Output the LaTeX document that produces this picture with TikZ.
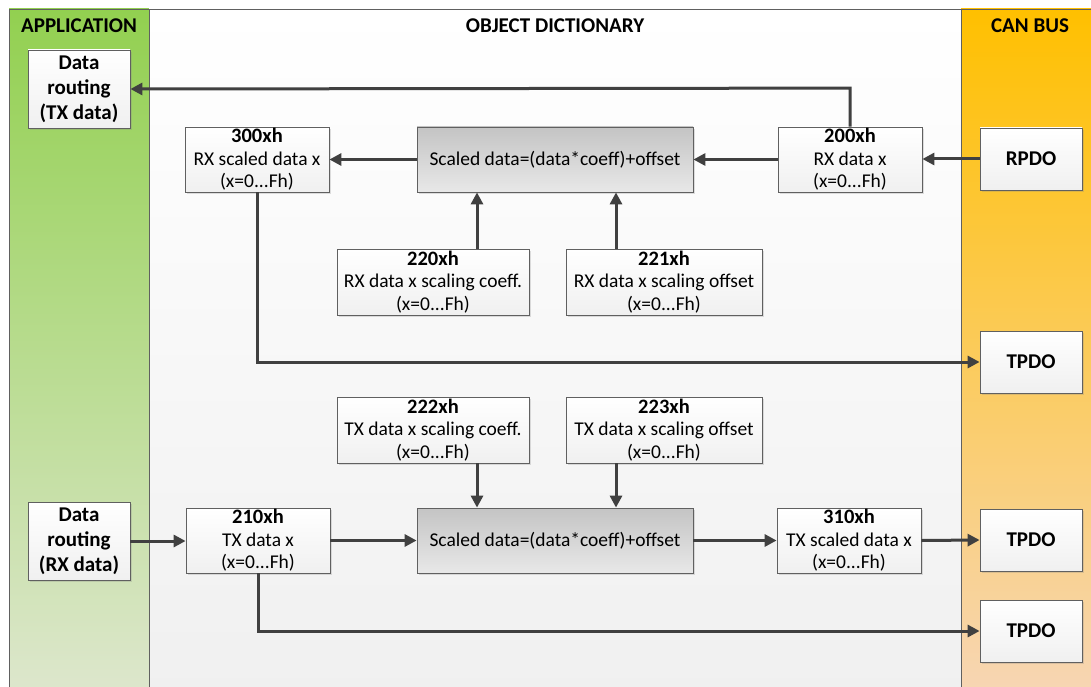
\documentclass[tikz,border=0pt]{standalone}
\usepackage{fontspec}
\setmainfont{Carlito}
\usetikzlibrary{arrows.meta,shadows}
\definecolor{linec}{RGB}{64,64,64}
\definecolor{borderc}{RGB}{96,96,96}
\definecolor{appTop}{RGB}{146,208,80}
\definecolor{appBot}{RGB}{222,231,206}
\definecolor{canTop}{RGB}{255,192,0}
\definecolor{canBot}{RGB}{247,214,182}
\definecolor{odBot}{RGB}{240,240,240}
\definecolor{grayTop}{RGB}{196,196,196}
\definecolor{grayBot}{RGB}{232,232,232}
\tikzset{
  panel/.style={draw=borderc, line width=0.8pt},
  hdr/.style={font=\bfseries\fontsize{21}{24}\selectfont, anchor=center},
  regbox/.style={draw=borderc, line width=0.8pt, top color=white, bottom color=odBot,
    inner sep=0pt, align=center, font=\fontsize{19.5}{22.5}\selectfont,
    drop shadow={shadow xshift=2pt, shadow yshift=-2pt, opacity=0.25, fill=gray}},
  calcbox/.style={regbox, top color=grayTop, bottom color=grayBot, font=\fontsize{19.5}{22}\selectfont},
  busbox/.style={regbox, font=\bfseries\fontsize{21}{25}\selectfont},
  conn/.style={draw=linec, line width=3pt, -{Triangle[length=12pt,width=12pt]}}
}
\newcommand{\ttl}[1]{{\bfseries\fontsize{20.5}{22.5}\selectfont #1}}
\begin{document}
\begin{tikzpicture}[x=1pt,y=-1pt]
\useasboundingbox (0,0) rectangle (1091,687);
% panels
\fill[white] (0,0) rectangle (1091,687);
\path[panel, top color=appTop, bottom color=appBot] (9,9) rectangle (149,700);
\path[panel, top color=white, bottom color=odBot] (149,9) rectangle (961,700);
\path[panel, top color=canTop, bottom color=canBot] (961,9) rectangle (1100,700);
\node[hdr] (happ) at (79,25.5) {APPLICATION};
\node[hdr] (hod) at (555,25.5) {OBJECT DICTIONARY};
\node[hdr] (hcan) at (1030,25.5) {CAN BUS};
% boxes
\node[busbox, minimum width=102pt, minimum height=78pt] (drtx) at (79,89) {Data\\routing\\(TX data)};
\node[regbox, minimum width=144pt, minimum height=65pt] (r300) at (257,159.5) {\ttl{300xh}\\RX scaled data x\\(x=0...Fh)};
\node[calcbox, minimum width=276pt, minimum height=65pt] (calc1) at (555,159.5) {Scaled data=(data*coeff)+offset};
\node[regbox, minimum width=144pt, minimum height=65pt] (r200) at (850,159.5) {\ttl{200xh}\\RX data x\\(x=0...Fh)};
\node[busbox, minimum width=102pt, minimum height=62pt] (rpdo) at (1031,159) {RPDO};
\node[regbox, minimum width=192pt, minimum height=66pt] (r220) at (433,282) {\ttl{220xh}\\RX data x scaling coeff.\\(x=0...Fh)};
\node[regbox, minimum width=196pt, minimum height=66pt] (r221) at (664,282) {\ttl{221xh}\\RX data x scaling offset\\(x=0...Fh)};
\node[busbox, minimum width=102pt, minimum height=62pt] (tpdo1) at (1031,362) {TPDO};
\node[regbox, minimum width=192pt, minimum height=66pt] (r222) at (433,430) {\ttl{222xh}\\TX data x scaling coeff.\\(x=0...Fh)};
\node[regbox, minimum width=196pt, minimum height=66pt] (r223) at (664,430) {\ttl{223xh}\\TX data x scaling offset\\(x=0...Fh)};
\node[busbox, minimum width=102pt, minimum height=78pt] (drrx) at (79,541) {Data\\routing\\(RX data)};
\node[regbox, minimum width=144pt, minimum height=65pt] (r210) at (258,540.5) {\ttl{210xh}\\TX data x\\(x=0...Fh)};
\node[calcbox, minimum width=276pt, minimum height=65pt] (calc2) at (555,540.5) {Scaled data=(data*coeff)+offset};
\node[regbox, minimum width=144pt, minimum height=65pt] (r310) at (849,540.5) {\ttl{310xh}\\TX scaled data x\\(x=0...Fh)};
\node[busbox, minimum width=102pt, minimum height=62pt] (tpdo2) at (1031,540) {TPDO};
\node[busbox, minimum width=102pt, minimum height=62pt] (tpdo3) at (1031,631) {TPDO};
% connectors
\draw[conn] (r200.north) -- ++(0,-38.5) -- (drtx.east);
\draw[conn] (rpdo.west) -- (rpdo.west -| r200.east);
\draw[conn] (r200.west) -- (calc1.east);
\draw[conn] (calc1.west) -- (r300.east);
\draw[conn] (r220.north -| 477,0) -- (calc1.south -| 477,0);
\draw[conn] (r221.north -| 616,0) -- (calc1.south -| 616,0);
\draw[conn] (r300.south) |- (tpdo1.west);
\draw[conn] (r222.south -| 477,0) -- (calc2.north -| 477,0);
\draw[conn] (r223.south -| 616,0) -- (calc2.north -| 616,0);
\draw[conn] (drrx.east) -- (drrx.east -| r210.west);
\draw[conn] (r210.east) -- (calc2.west);
\draw[conn] (calc2.east) -- (r310.west);
\draw[conn] (r310.east) -- (tpdo2.west);
\draw[conn] (r210.south) |- (tpdo3.west);
\end{tikzpicture}
\end{document}
